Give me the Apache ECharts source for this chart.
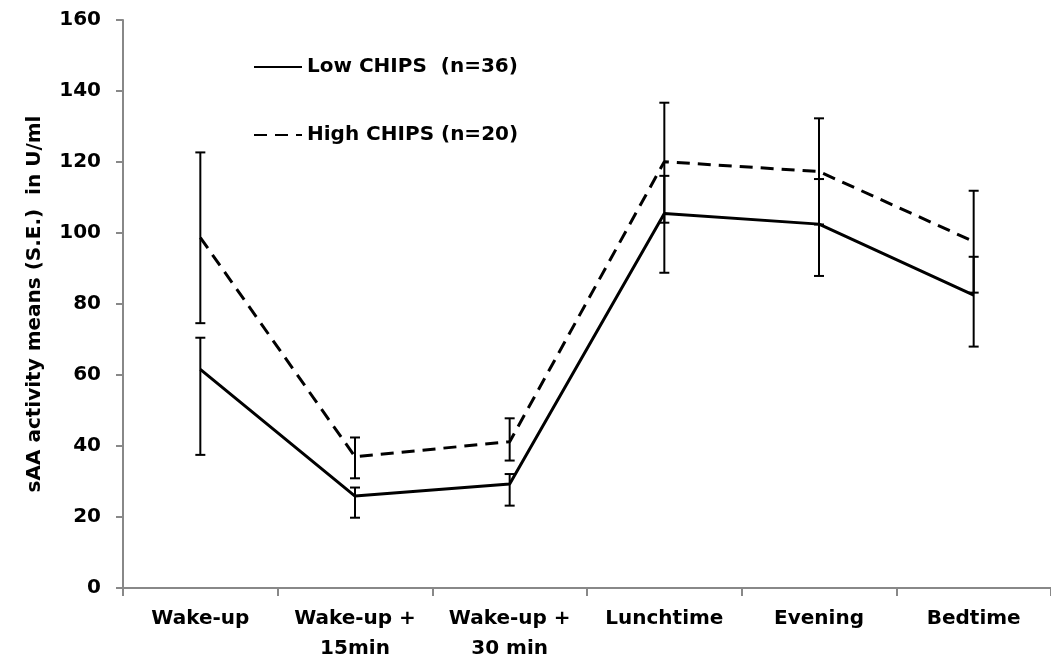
<!DOCTYPE html>
<html>
<head>
<meta charset="utf-8">
<script src="https://cdn.jsdelivr.net/npm/echarts@6/dist/echarts.min.js"></script>
<style>
  html, body { margin: 0; padding: 0; background: #fff; }
  #chart { width: 1051px; height: 664px; }
</style>
</head>
<body>
<div id="chart"></div>
<script>
var categories = ['Wake-up', 'Wake-up +\n15min', 'Wake-up +\n30 min', 'Lunchtime', 'Evening', 'Bedtime'];
var yTicks = [0, 20, 40, 60, 80, 100, 120, 140, 160];

// means
var lowMean = [61.6, 25.9, 29.3, 105.5, 102.5, 82.5];
var highMean = [98.7, 37.0, 41.2, 120.1, 117.3, 97.6];

// error bar ends (S.E.)
var lowErrBottom = [37.5, 19.8, 23.2, 88.8, 87.9, 68.0];
var lowErrTop = [70.5, 28.3, 32.1, 116.1, 115.2, 93.3];
var highErrBottom = [74.6, 30.9, 35.9, 102.9, 102.4, 83.2];
var highErrTop = [122.7, 42.4, 47.8, 136.7, 132.3, 111.9];

var FONT = 'DejaVu Sans';

function errData(bottom, top) {
  return bottom.map(function (b, i) { return [i, b, top[i]]; });
}

function renderErr(params, api) {
  var i = api.value(0);
  var lo = api.coord([i, api.value(1)]);
  var hi = api.coord([i, api.value(2)]);
  var w = 5;
  var style = { stroke: '#000', lineWidth: 2 };
  return {
    type: 'group',
    children: [
      { type: 'line', shape: { x1: lo[0], y1: lo[1], x2: hi[0], y2: hi[1] }, style: style },
      { type: 'line', shape: { x1: lo[0] - w, y1: lo[1], x2: lo[0] + w, y2: lo[1] }, style: style },
      { type: 'line', shape: { x1: hi[0] - w, y1: hi[1], x2: hi[0] + w, y2: hi[1] }, style: style }
    ]
  };
}

var chart = echarts.init(document.getElementById('chart'));

var option = {
  backgroundColor: '#fff',
  animation: false,
  grid: {
    left: 123,
    top: 20,
    width: 934,
    bottom: 76,
    containLabel: false
  },
  legend: {
    orient: 'vertical',
    left: 248,
    top: 52,
    itemWidth: 48,
    itemHeight: 20,
    itemGap: 48,
    itemStyle: { opacity: 0 },
    data: ['Low CHIPS  (n=36)', 'High CHIPS (n=20)'],
    textStyle: { fontFamily: FONT, fontWeight: 'bold', fontSize: 20, color: '#000' }
  },
  xAxis: {
    type: 'category',
    data: categories,
    boundaryGap: true,
    axisLine: { lineStyle: { color: '#888', width: 2 } },
    axisTick: { show: true, interval: 0, length: 8, lineStyle: { color: '#888', width: 2 } },
    axisLabel: {
      interval: 0,
      margin: 16,
      fontFamily: FONT,
      fontWeight: 'bold',
      fontSize: 20,
      lineHeight: 30,
      color: '#000'
    },
    splitLine: { show: false }
  },
  yAxis: {
    type: 'value',
    min: yTicks[0],
    max: yTicks[yTicks.length - 1],
    interval: 20,
    name: 'sAA activity means (S.E.)  in U/ml',
    nameLocation: 'middle',
    nameGap: 78,
    nameTextStyle: { fontFamily: FONT, fontWeight: 'bold', fontSize: 20, color: '#000' },
    axisLine: { show: true, lineStyle: { color: '#888', width: 2 } },
    axisTick: { show: true, length: 7, lineStyle: { color: '#888', width: 2 } },
    axisLabel: {
      margin: 22,
      fontFamily: FONT,
      fontWeight: 'bold',
      fontSize: 20,
      color: '#000'
    },
    splitLine: { show: false }
  },
  series: [
    {
      name: 'Low CHIPS  (n=36)',
      type: 'line',
      data: lowMean,
      symbol: 'none',
      lineStyle: { color: '#000', width: 3 },
      itemStyle: { color: '#000' },
      z: 3
    },
    {
      name: 'High CHIPS (n=20)',
      type: 'line',
      data: highMean,
      symbol: 'none',
      lineStyle: { color: '#000', width: 3, type: [13, 8] },
      itemStyle: { color: '#000' },
      z: 3
    },
    {
      type: 'custom',
      data: errData(lowErrBottom, lowErrTop),
      renderItem: renderErr,
      z: 4
    },
    {
      type: 'custom',
      data: errData(highErrBottom, highErrTop),
      renderItem: renderErr,
      z: 4
    }
  ]
};

chart.setOption(option);
</script>
</body>
</html>
